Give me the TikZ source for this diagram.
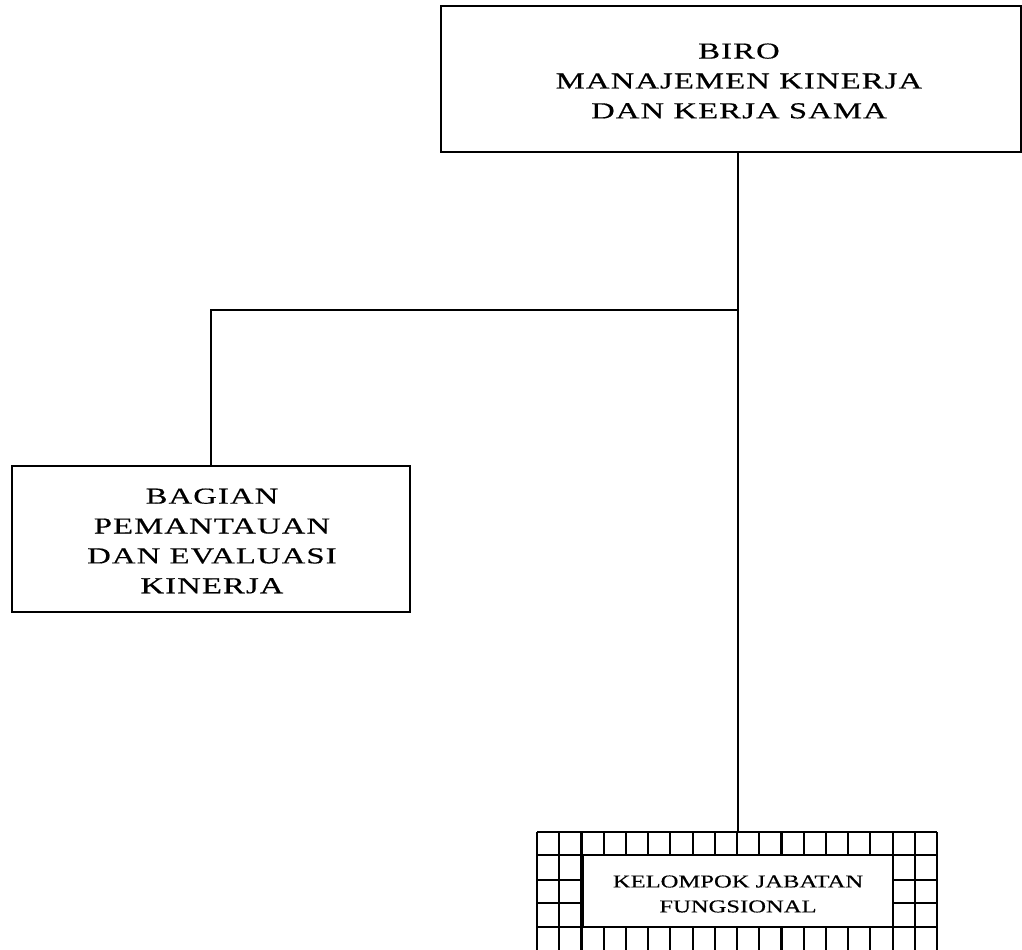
\documentclass[tikz,border=0pt]{standalone}
\usepackage{fontspec}
\setmainfont{Liberation Serif}
\begin{document}
\begin{tikzpicture}[x=0.02cm,y=-0.02cm,
  box/.style={draw,line width=0.9pt,inner sep=0pt},
  bigtxt/.style={align=center,font=\fontsize{13}{17}\selectfont\addfontfeature{FakeStretch=1.43,LetterSpace=5,FakeBold=0.5}},
  smalltxt/.style={align=center,font=\fontsize{10.3}{14.2}\selectfont\addfontfeature{FakeStretch=1.36,LetterSpace=0,FakeBold=0.4}},
  conn/.style={line width=0.9pt}]
\useasboundingbox (0,0) rectangle (1022,950);
% top box
\node[box,minimum width=580*0.02cm,minimum height=146*0.02cm] (biro) at (731,79) {};
\node[bigtxt] (birotxt) at (739,81) {BIRO\\MANAJEMEN KINERJA\\DAN KERJA SAMA};
% left box
\node[box,minimum width=398*0.02cm,minimum height=146*0.02cm] (bag) at (211,539) {};
\node[bigtxt] (bagtxt) at (212,541) {BAGIAN\\PEMANTAUAN\\DAN EVALUASI\\KINERJA};
% grid box
\begin{scope}[line width=1.2pt]
\foreach \i in {0,...,18} {\draw (537+\i*22.222,832) -- (537+\i*22.222,951);}
\foreach \yy in {832,855,880,903,927} {\draw (537,\yy) -- (937,\yy);}
\fill[white] (583.4,855) rectangle (892.6,927);
\draw (583.4,855) rectangle (892.6,927);
\end{scope}
\coordinate (kjtop) at (738,832);
\node[smalltxt] (kjtxt) at (738,894) {KELOMPOK JABATAN\\FUNGSIONAL};
% connectors
\coordinate (j) at (738,310);
\draw[conn] (biro.south -| j) -- (kjtop);
\draw[conn] (j) -- (j -| bag.north) -- (bag.north);
\end{tikzpicture}
\end{document}
